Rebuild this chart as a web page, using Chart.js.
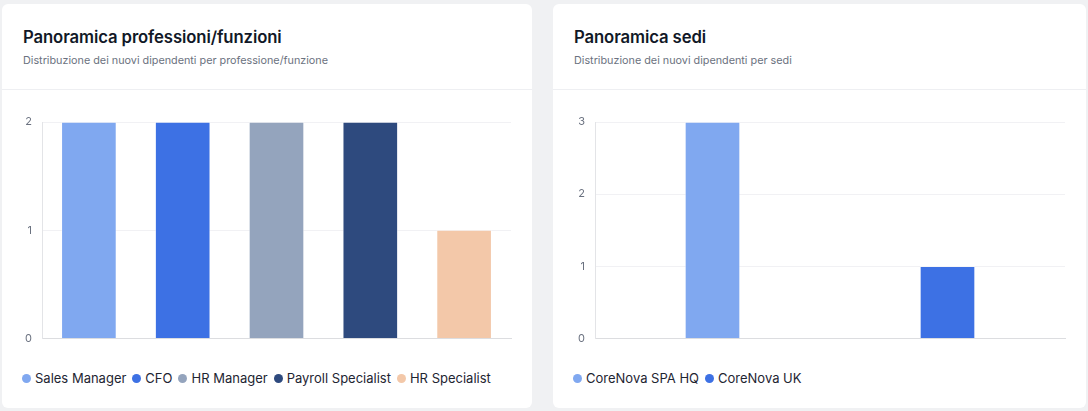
<!DOCTYPE html>
<html lang="it">
<head>
<meta charset="utf-8">
<title>Panoramica</title>
<script src="https://cdn.jsdelivr.net/npm/chart.js@4.4.1/dist/chart.umd.min.js"></script>
<style>
  html, body { margin: 0; padding: 0; }
  body {
    width: 1088px; height: 411px; overflow: hidden;
    background: #f0f1f3;
    font-family: Inter, "Noto Sans", sans-serif;
    position: relative;
  }
  .card {
    position: absolute; top: 4px; height: 404px;
    background: #fff; border-radius: 6px;
  }
  #card1 { left: 2px; width: 530px; }
  #card2 { left: 553px; width: 533px; }
  .head { height: 86px; border-bottom: 1px solid #eeeff2; padding: 0 21px; box-sizing: border-box; }
  .head h2 {
    margin: 0; padding-top: 23px;
    font-size: 16.7px; font-weight: 600; color: #111827; letter-spacing: -0.1px;
  }
  .head p { margin: 7px 0 0; font-size: 10.8px; color: #6b7280; }
  .chart-box { position: absolute; left: 0; right: 0; top: 87px; height: 264px; }
  .legend {
    position: absolute; left: 20px; top: 365px;
    display: flex; align-items: center; white-space: nowrap;
    font-size: 13px; color: #1e2532; line-height: 18px;
  }
  .legend span.item { display: inline-flex; align-items: center; margin-right: 6px; }
  .legend span.dot { width: 9px; height: 9px; border-radius: 50%; margin-right: 4px; }
</style>
</head>
<body>
<div class="card" id="card1">
  <div class="head">
    <h2>Panoramica professioni/funzioni</h2>
    <p>Distribuzione dei nuovi dipendenti per professione/funzione</p>
  </div>
  <div class="chart-box"><canvas id="professioniChart"></canvas></div>
  <div class="legend" id="professioniLegend"></div>
</div>
<div class="card" id="card2">
  <div class="head">
    <h2>Panoramica sedi</h2>
    <p>Distribuzione dei nuovi dipendenti per sedi</p>
  </div>
  <div class="chart-box"><canvas id="sediChart"></canvas></div>
  <div class="legend" id="sediLegend"></div>
</div>

<script>
// Professioni / funzioni
const professioniLabels = ["Sales Manager", "CFO", "HR Manager", "Payroll Specialist", "HR Specialist"];
const professioniData = [2, 2, 2, 2, 1];
const professioniColors = ["#80a8f0", "#3d71e4", "#94a4bd", "#2e4a7e", "#f3c8a9"];
const professioniTicks = [0, 1, 2];

// Sedi
const sediLabels = ["CoreNova SPA HQ", "CoreNova UK"];
const sediData = [3, 1];
const sediColors = ["#80a8f0", "#3d71e4"];
const sediTicks = [0, 1, 2, 3];

Chart.defaults.font.family = "Inter, 'Noto Sans', sans-serif";
Chart.defaults.animation = false;

// legend as html, built from the chart's own data
function buildLegend(chart, legendId) {
  const box = document.getElementById(legendId);
  const ds = chart.data.datasets[0];
  chart.data.labels.forEach(function (lbl, i) {
    const item = document.createElement("span");
    item.className = "item";
    const dot = document.createElement("span");
    dot.className = "dot";
    dot.style.background = ds.backgroundColor[i];
    item.appendChild(dot);
    item.appendChild(document.createTextNode(lbl));
    box.appendChild(item);
  });
}

function makeBarChart(canvasId, labels, data, colors, ticks, axisWidth) {
  const ctx = document.getElementById(canvasId).getContext("2d");
  return new Chart(ctx, {
    type: "bar",
    data: {
      labels: labels,
      datasets: [{
        data: data,
        backgroundColor: colors,
        borderColor: "rgba(255, 255, 255, 0.35)",
        borderWidth: 1,
        barThickness: 55
      }]
    },
    options: {
      responsive: true,
      maintainAspectRatio: false,
      layout: { padding: { top: 31, left: 13, right: 21, bottom: 3 } },
      plugins: {
        tooltip: { enabled: false },
        legend: { display: false }
      },
      scales: {
        x: {
          grid: { display: false },
          border: { display: true, color: "#dcdde0" },
          ticks: { display: false },
          afterFit: function (scale) { scale.height = 0; }
        },
        y: {
          beginAtZero: true,
          min: ticks[0],
          max: ticks[ticks.length - 1],
          afterBuildTicks: function (scale) {
            scale.ticks = ticks.map(function (v) { return { value: v }; });
          },
          grid: { color: "#f1f1f4", drawTicks: false },
          border: { display: true, color: "#e3e4e7" },
          ticks: { stepSize: 1, padding: 10, color: "#6b7280", font: { size: 11 } },
          afterFit: function (scale) { scale.width = axisWidth; }
        }
      }
    }
  });
}

document.addEventListener("DOMContentLoaded", function () {
  const c1 = makeBarChart("professioniChart", professioniLabels, professioniData, professioniColors, professioniTicks, 27);
  buildLegend(c1, "professioniLegend");
  const c2 = makeBarChart("sediChart", sediLabels, sediData, sediColors, sediTicks, 29);
  buildLegend(c2, "sediLegend");
});
</script>
</body>
</html>
